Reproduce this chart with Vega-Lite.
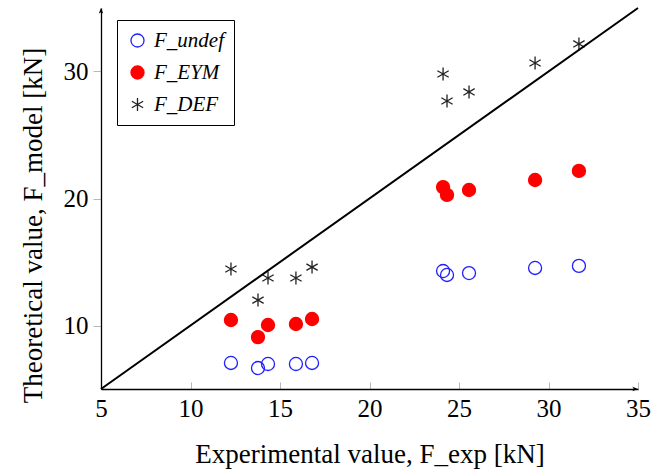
{
  "$schema": "https://vega.github.io/schema/vega-lite/v6.json",
  "width": 537,
  "height": 381,
  "autosize": {"type": "none"},
  "padding": {"left": 101, "top": 8, "right": 16, "bottom": 83},
  "background": "white",
  "config": {
    "view": {"stroke": null},
    "font": "Liberation Serif, serif",
    "axis": {"labelFont": "Liberation Serif, serif", "titleFont": "Liberation Serif, serif"},
    "legend": {"labelFont": "Liberation Serif, serif"}
  },
  "layer": [
    {
      "data": {"values": [
        {"series": "F_undef", "exp": 12.26, "model": 7.05},
        {"series": "F_undef", "exp": 13.77, "model": 6.65},
        {"series": "F_undef", "exp": 14.33, "model": 6.97},
        {"series": "F_undef", "exp": 15.89, "model": 6.97},
        {"series": "F_undef", "exp": 16.79, "model": 7.05},
        {"series": "F_undef", "exp": 24.11, "model": 14.29},
        {"series": "F_undef", "exp": 24.33, "model": 13.98},
        {"series": "F_undef", "exp": 25.56, "model": 14.13},
        {"series": "F_undef", "exp": 29.25, "model": 14.53},
        {"series": "F_undef", "exp": 31.7, "model": 14.69},
        {"series": "F_EYM", "exp": 12.26, "model": 10.43},
        {"series": "F_EYM", "exp": 13.77, "model": 9.09},
        {"series": "F_EYM", "exp": 14.33, "model": 10.04},
        {"series": "F_EYM", "exp": 15.89, "model": 10.12},
        {"series": "F_EYM", "exp": 16.79, "model": 10.51},
        {"series": "F_EYM", "exp": 24.11, "model": 20.9},
        {"series": "F_EYM", "exp": 24.33, "model": 20.28},
        {"series": "F_EYM", "exp": 25.56, "model": 20.67},
        {"series": "F_EYM", "exp": 29.25, "model": 21.46},
        {"series": "F_EYM", "exp": 31.7, "model": 22.17},
        {"series": "F_DEF", "exp": 12.26, "model": 14.45},
        {"series": "F_DEF", "exp": 13.77, "model": 12.0},
        {"series": "F_DEF", "exp": 14.33, "model": 13.74},
        {"series": "F_DEF", "exp": 15.89, "model": 13.74},
        {"series": "F_DEF", "exp": 16.79, "model": 14.6},
        {"series": "F_DEF", "exp": 24.11, "model": 29.8},
        {"series": "F_DEF", "exp": 24.33, "model": 27.68},
        {"series": "F_DEF", "exp": 25.56, "model": 28.39},
        {"series": "F_DEF", "exp": 29.25, "model": 30.67},
        {"series": "F_DEF", "exp": 31.7, "model": 32.17}
      ]},
      "mark": {"type": "point", "filled": false, "strokeWidth": 1.3, "opacity": 1},
      "encoding": {
        "x": {
          "field": "exp", "type": "quantitative",
          "scale": {"domain": [5, 35], "nice": false, "zero": false},
          "axis": {
            "values": [5, 10, 15, 20, 25, 30, 35],
            "title": "Experimental value, F_exp [kN]",
            "titleFontSize": 27, "titleFontWeight": "normal", "titleColor": "black",
            "titleY": 73, "titleBaseline": "alphabetic",
            "labelFontSize": 25, "labelColor": "black",
            "labelFlush": false, "labelOverlap": false, "labelPadding": 14,
            "domainColor": "black", "domainWidth": 1.3,
            "tickColor": "#b8b8b8", "tickWidth": 1, "tickSize": -7,
            "grid": false
          }
        },
        "y": {
          "field": "model", "type": "quantitative",
          "scale": {"domain": [5, 35], "nice": false, "zero": false},
          "axis": {
            "values": [10, 20, 30],
            "title": "Theoretical value, F_model [kN]",
            "titleFontSize": 27, "titleFontWeight": "normal", "titleColor": "black",
            "titleX": -60, "titleY": 217, "titleBaseline": "alphabetic",
            "labelFontSize": 25, "labelColor": "black",
            "labelPadding": 5, "labelOverlap": false,
            "domainColor": "black", "domainWidth": 1.3,
            "tickColor": "#b8b8b8", "tickWidth": 1, "tickSize": 8,
            "grid": false
          }
        },
        "shape": {
          "field": "series", "type": "nominal",
          "scale": {"domain": ["F_undef", "F_EYM", "F_DEF"], "range": ["circle", "circle", "M0,-1L0,1M-0.866,-0.5L0.866,0.5M-0.866,0.5L0.866,-0.5"]},
          "legend": {
            "title": null, "orient": "none", "legendX": 16, "legendY": 12,
            "strokeColor": "black", "fillColor": "white", "padding": 10,
            "labelFontStyle": "italic", "labelFontSize": 21, "labelColor": "black",
            "rowPadding": 10, "symbolStrokeWidth": 1.3, "labelOffset": 6
          }
        },
        "stroke": {
          "field": "series", "type": "nominal",
          "scale": {"domain": ["F_undef", "F_EYM", "F_DEF"], "range": ["#1f1fff", "#ff0000", "#222222"]}
        },
        "fill": {
          "field": "series", "type": "nominal",
          "scale": {"domain": ["F_undef", "F_EYM", "F_DEF"], "range": ["transparent", "#ff0000", "transparent"]}
        },
        "size": {
          "field": "series", "type": "nominal",
          "scale": {"domain": ["F_undef", "F_EYM", "F_DEF"], "range": [170, 170, 260]}
        }
      }
    },
    {
      "data": {"values": [{"x1": 5, "y1": 5, "x2": 35, "y2": 35}]},
      "mark": {"type": "rule", "color": "black", "strokeWidth": 2},
      "encoding": {
        "x": {"field": "x1", "type": "quantitative"},
        "y": {"field": "y1", "type": "quantitative"},
        "x2": {"field": "x2"},
        "y2": {"field": "y2"}
      }
    },
    {
      "data": {"values": [{}]},
      "mark": {"type": "point", "shape": "M0,0L-0.55,1.4L0,1.05L0.55,1.4Z", "filled": true, "color": "black", "size": 64, "opacity": 1},
      "encoding": {"x": {"datum": 5, "type": "quantitative"}, "y": {"datum": 35, "type": "quantitative"}}
    },
    {
      "data": {"values": [{}]},
      "mark": {"type": "point", "shape": "M0,0L-1.4,-0.55L-1.05,0L-1.4,0.55Z", "filled": true, "color": "black", "size": 64, "opacity": 1},
      "encoding": {"x": {"datum": 35, "type": "quantitative"}, "y": {"datum": 5, "type": "quantitative"}}
    }
  ]
}
